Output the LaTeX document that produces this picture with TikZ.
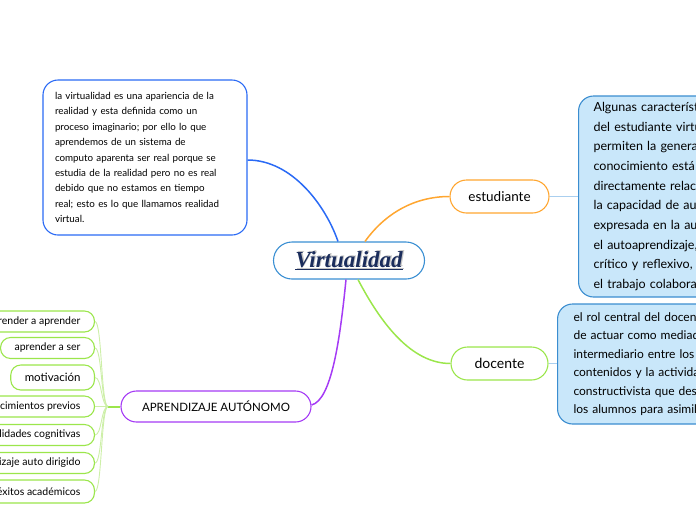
\documentclass[tikz,border=0pt]{standalone}
\usepackage{fontspec}
\setmainfont{Lato}
\newfontfamily\vfont{Liberation Serif}
\usetikzlibrary{calc}
\definecolor{cblue}{HTML}{2A6AF5}
\definecolor{cctr}{HTML}{3A8FD3}
\definecolor{corange}{HTML}{FFA630}
\definecolor{cgreen}{HTML}{9BE64B}
\definecolor{cpurple}{HTML}{A53BF5}
\definecolor{cfill}{HTML}{C9E7FA}
\definecolor{cboxb}{HTML}{3B8DD0}
\definecolor{clink}{HTML}{AACFEF}
\definecolor{clgreen}{HTML}{CDEFA8}
\definecolor{cnavy}{HTML}{1B2D5C}
\tikzset{
  pill/.style={draw, fill=white, line width=1.1pt, inner sep=0pt},
  bluebox/.style={draw=cboxb, fill=cfill, line width=1.1pt, rounded corners=15pt, align=left, inner ysep=0pt},
  listbox/.style={draw=cgreen, fill=white, line width=1.1pt, rounded corners=10pt, inner xsep=14pt, inner ysep=0pt, minimum height=21pt, anchor=east, font=\fontsize{10.5}{12}\selectfont},
  branch/.style={line width=1.5pt},
  leaf/.style={draw=clgreen, line width=0.9pt},
}
\begin{document}
\begin{tikzpicture}[x=1pt,y=-1pt]
\useasboundingbox (0,0) rectangle (696,520);
% central
\node[pill, draw=cctr, rounded corners=18.5pt, minimum width=151pt, minimum height=37pt] (ctr) at (349,260.5) {};
\node[text=gray!45, font=\vfont\fontsize{23}{25}\selectfont\bfseries\itshape] (ctrsh) at (350.3,259.2) {\underline{Virtualidad}};
\node[text=cnavy, font=\vfont\fontsize{23}{25}\selectfont\bfseries\itshape] (ctrtext) at (349,260.5) {\underline{Virtualidad}};
% left description box
\node[draw=cblue, fill=white, line width=1.1pt, rounded corners=15pt, minimum width=204pt, minimum height=155pt, text width=180pt, align=left, font=\fontsize{9.8}{15.4}\selectfont] (vbox) at (145,157.5) {la virtualidad es una apariencia de la\\
realidad y esta definida como un\\
proceso imaginario; por ello lo que\\
aprendemos de un sistema de\\
computo aparenta ser real porque se\\
estudia de la realidad pero no es real\\
debido que no estamos en tiempo\\
real; esto es lo que llamamos realidad\\
virtual.};
% estudiante
\node[pill, draw=corange, rounded corners=16.5pt, minimum width=99pt, minimum height=33pt, font=\fontsize{13.5}{15}\selectfont] (est) at (499.5,196.5) {estudiante};
\node[bluebox, anchor=west, minimum height=201pt, text width=230pt, inner xsep=15pt, font=\fontsize{12.5}{19.7}\selectfont] (estbox) at (578,196.5) {Algunas características\\
del estudiante virtual\\
permiten la generación de\\
conocimiento está\\
directamente relacionado con\\
la capacidad de autonomía\\
expresada en la autogestión,\\
el autoaprendizaje, el pensamiento\\
crítico y reflexivo, así como\\
el trabajo colaborativo.};
% docente
\node[pill, draw=cgreen, rounded corners=16.5pt, minimum width=97pt, minimum height=33pt, font=\fontsize{14}{16}\selectfont] (doc) at (499.5,363.5) {docente};
\node[bluebox, anchor=west, minimum height=120pt, text width=230pt, inner xsep=16pt, font=\fontsize{12}{18.5}\selectfont] (docbox) at (557,364) {el rol central del docente es\\
de actuar como mediador o\\
intermediario entre los\\
contenidos y la actividad\\
constructivista que despliegan\\
los alumnos para asimilarlos.};
% aprendizaje
\node[pill, draw=cpurple, rounded corners=15.5pt, minimum width=190pt, minimum height=31pt, font=\fontsize{11.5}{14}\selectfont] (apr) at (216,406.5) {APRENDIZAJE AUTÓNOMO};
% list
\node[listbox] (l1) at (95,321.5) {aprender a aprender};
\node[listbox] (l2) at (95,348) {aprender a ser};
\node[listbox, minimum height=25pt, font=\fontsize{11.5}{13}\selectfont] (l3) at (95,377.5) {motivación};
\node[listbox] (l4) at (95,406.5) {conocimientos previos};
\node[listbox] (l5) at (95,435) {habilidades cognitivas};
\node[listbox] (l6) at (95,463) {aprendizaje auto dirigido};
\node[listbox, minimum height=23pt] (l7) at (95,491.5) {éxitos académicos};
% connectors
\draw[branch, cblue] ([xshift=-11pt]ctr.north) .. controls +(-12,-35) and +(45,0) .. ([yshift=-2.5pt]vbox.east);
\draw[branch, corange] ([xshift=16pt]ctr.north) .. controls +(20,-28) and +(-35,0) .. (est.west);
\draw[branch, cgreen] ([xshift=9pt]ctr.south) .. controls +(22,42) and +(-40,0) .. (doc.west);
\draw[branch, cpurple] ([xshift=-3pt]ctr.south) .. controls +(-6,60) and +(20,-5) .. ([yshift=1.5pt]apr.east);
\draw[line width=1.3pt, clink] (est.east) -- (est.east -| estbox.west);
\draw[line width=1.3pt, clink] (doc.east) -- (doc.east -| docbox.west);
\coordinate (jn) at (108,406.5);
\coordinate (jx) at (101,0);
\coordinate (jy) at (102,0);
\draw[line width=2pt, cgreen] (apr.west) -- (jn);
\foreach \n in {l1,l2,l3,l4,l5,l6,l7}{
  \draw[leaf] (jn) .. controls (jx |- jn) and (jy |- \n.east) .. (\n.east);
}
\end{tikzpicture}
\end{document}
